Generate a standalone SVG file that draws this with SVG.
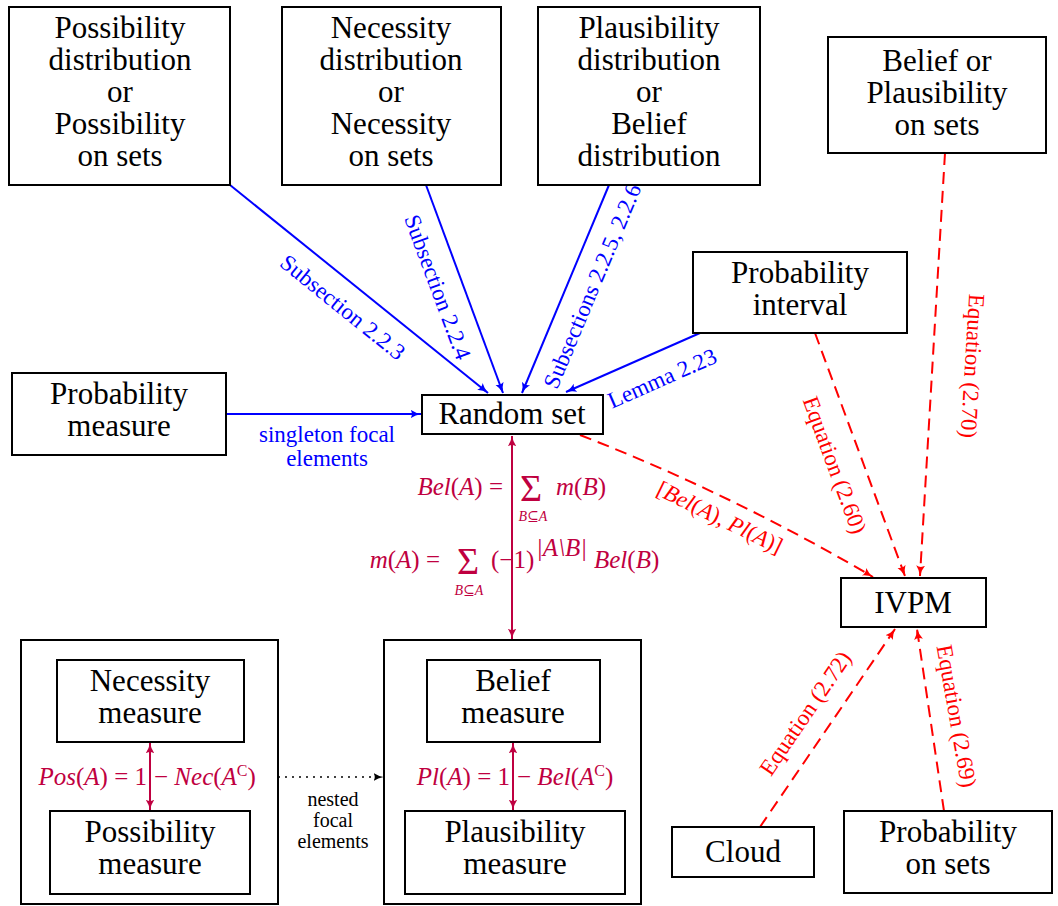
<svg xmlns="http://www.w3.org/2000/svg" width="1058" height="906" viewBox="0 0 1058 906" font-family="Liberation Serif, DejaVu Serif, serif">
<defs>
<style>
text{font-family:Liberation Serif,DejaVu Serif,serif}
.box{fill:#fff;stroke:#000;stroke-width:2}
.t{font-size:31px;fill:#000;text-anchor:middle}
.lb{font-size:23px;text-anchor:middle}
.sm{font-size:20px}
.blue{fill:#0000ff}
.red{fill:#ff0000}
.blk{fill:#000}
.it{font-style:italic}
.eb{stroke:#0000ff;stroke-width:2;fill:none}
.er{stroke:#ff0000;stroke-width:2;fill:none;stroke-dasharray:12 7}
.ec{stroke:#bf0040;stroke-width:2;fill:none}
.ed{stroke:#000;stroke-width:2;fill:none;stroke-dasharray:0 7;stroke-linecap:round}
.m{font-size:25px;fill:#bf0040}
.sig{font-size:38px;fill:#bf0040;text-anchor:middle}
.sub{font-size:14px;fill:#bf0040;font-style:italic;text-anchor:middle}
</style>
<marker id="aB" viewBox="0 0 10 10" refX="9.5" refY="5" markerWidth="11" markerHeight="11" markerUnits="userSpaceOnUse" orient="auto-start-reverse"><path d="M0,1 Q4,4 10,5 Q4,6 0,9 Q2.5,5 0,1Z" fill="#0000ff"/></marker>
<marker id="aR" viewBox="0 0 10 10" refX="9.5" refY="5" markerWidth="11" markerHeight="11" markerUnits="userSpaceOnUse" orient="auto-start-reverse"><path d="M0,1 Q4,4 10,5 Q4,6 0,9 Q2.5,5 0,1Z" fill="#ff0000"/></marker>
<marker id="aC" viewBox="0 0 10 10" refX="9.5" refY="5" markerWidth="11" markerHeight="11" markerUnits="userSpaceOnUse" orient="auto-start-reverse"><path d="M0,1 Q4,4 10,5 Q4,6 0,9 Q2.5,5 0,1Z" fill="#bf0040"/></marker>
<marker id="aK" viewBox="0 0 10 10" refX="9.5" refY="5" markerWidth="10" markerHeight="10" markerUnits="userSpaceOnUse" orient="auto-start-reverse"><path d="M0,1 Q4,4 10,5 Q4,6 0,9 Q2.5,5 0,1Z" fill="#000"/></marker>
</defs>
<rect x="0" y="0" width="1058" height="906" fill="#fff"/>

<g id="outer-left"><rect class="box" x="21" y="640" width="257" height="264"/></g>
<g id="outer-right"><rect class="box" x="384" y="640" width="257" height="264"/></g>

<g id="connectors">
  <line class="eb" x1="230" y1="185" x2="488" y2="393" marker-end="url(#aB)"/>
  <line class="eb" x1="426" y1="185" x2="503" y2="393" marker-end="url(#aB)"/>
  <line class="eb" x1="609" y1="185" x2="522" y2="393" marker-end="url(#aB)"/>
  <line class="eb" x1="700" y1="333" x2="566" y2="392" marker-end="url(#aB)"/>
  <line class="eb" x1="226" y1="414" x2="421" y2="414" marker-end="url(#aB)"/>
  <line class="ec" x1="512" y1="436" x2="512" y2="639" marker-start="url(#aC)" marker-end="url(#aC)"/>
  <line class="ec" x1="150" y1="743" x2="150" y2="810" marker-start="url(#aC)" marker-end="url(#aC)"/>
  <line class="ec" x1="513" y1="743" x2="513" y2="810" marker-start="url(#aC)" marker-end="url(#aC)"/>
  <line class="ed" x1="279" y1="777" x2="383" y2="777" marker-end="url(#aK)"/>
  <path class="er" d="M580,435 Q732,494 873,577" marker-end="url(#aR)"/>
  <line class="er" x1="815" y1="333" x2="905" y2="576" marker-end="url(#aR)"/>
  <line class="er" x1="945" y1="153" x2="920" y2="576" marker-end="url(#aR)"/>
  <line class="er" x1="760" y1="827" x2="895" y2="629" marker-end="url(#aR)"/>
  <line class="er" x1="944" y1="811" x2="917" y2="629" marker-end="url(#aR)"/>

  <text class="lb blue" transform="translate(343,307) rotate(38.9)" y="8">Subsection 2.2.3</text>
  <text class="lb blue" transform="translate(438,287) rotate(69.6)" y="8">Subsection 2.2.4</text>
  <text class="lb blue" transform="translate(592,286) rotate(-67.3)" y="8">Subsections 2.2.5, 2.2.6</text>
  <text class="lb blue" transform="translate(662,378) rotate(-23.8)" y="8">Lemma 2.23</text>
  <text class="lb blue" x="327" y="442">singleton focal</text>
  <text class="lb blue" x="327" y="466">elements</text>
  <text class="lb sm blk" x="333" y="806">nested</text>
  <text class="lb sm blk" x="333" y="827">focal</text>
  <text class="lb sm blk" x="333" y="848">elements</text>

  <text class="lb red" transform="translate(720,517) rotate(26)" y="8">[<tspan class="it">Bel</tspan>(<tspan class="it">A</tspan>), <tspan class="it">Pl</tspan>(<tspan class="it">A</tspan>)]</text>
  <text class="lb red" transform="translate(835,465) rotate(69.7)" y="8">Equation (2.60)</text>
  <text class="lb red" transform="translate(973,366) rotate(93.4)" y="8">Equation (2.70)</text>
  <text class="lb red" transform="translate(805,713) rotate(-55.7)" y="8">Equation (2.72)</text>
  <text class="lb red" transform="translate(957,716) rotate(80)" y="8">Equation (2.69)</text>

  <text class="m" x="503" y="495" text-anchor="end"><tspan class="it">Bel</tspan>(<tspan class="it">A</tspan>) =</text>
  <text class="sig" x="531" y="501">Σ</text>
  <text class="sub" x="533" y="521">B⊆A</text>
  <text class="m" x="556" y="495"><tspan class="it">m</tspan>(<tspan class="it">B</tspan>)</text>

  <text class="m" x="440" y="568" text-anchor="end"><tspan class="it">m</tspan>(<tspan class="it">A</tspan>) =</text>
  <text class="sig" x="468" y="574">Σ</text>
  <text class="sub" x="469" y="595">B⊆A</text>
  <text class="m" x="491" y="568">(−1)</text>
  <text class="m" x="536" y="556" font-size="16" font-style="italic">|A\B|</text>
  <text class="m" x="594" y="568"><tspan class="it">Bel</tspan>(<tspan class="it">B</tspan>)</text>

  <text class="m" x="147" y="785" text-anchor="end"><tspan class="it">Pos</tspan>(<tspan class="it">A</tspan>) = 1</text>
  <text class="m" x="154" y="785">− <tspan class="it">Nec</tspan>(<tspan class="it">A</tspan><tspan font-size="16" dy="-9">C</tspan><tspan dy="9">)</tspan></text>
  <text class="m" x="510" y="785" text-anchor="end"><tspan class="it">Pl</tspan>(<tspan class="it">A</tspan>) = 1</text>
  <text class="m" x="517" y="785">− <tspan class="it">Bel</tspan>(<tspan class="it">A</tspan><tspan font-size="16" dy="-9">C</tspan><tspan dy="9">)</tspan></text>
</g>

<g id="possibility-distribution"><rect class="box" x="9" y="7" width="221" height="178"/>
<text class="t" x="120" y="38">Possibility</text><text class="t" x="120" y="70">distribution</text><text class="t" x="120" y="102">or</text><text class="t" x="120" y="134">Possibility</text><text class="t" x="120" y="166">on sets</text></g>
<g id="necessity-distribution"><rect class="box" x="282" y="7" width="219" height="178"/>
<text class="t" x="391" y="38">Necessity</text><text class="t" x="391" y="70">distribution</text><text class="t" x="391" y="102">or</text><text class="t" x="391" y="134">Necessity</text><text class="t" x="391" y="166">on sets</text></g>
<g id="plausibility-distribution"><rect class="box" x="538" y="7" width="222" height="178"/>
<text class="t" x="649" y="38">Plausibility</text><text class="t" x="649" y="70">distribution</text><text class="t" x="649" y="102">or</text><text class="t" x="649" y="134">Belief</text><text class="t" x="649" y="166">distribution</text></g>
<g id="belief-plausibility-sets"><rect class="box" x="828" y="37" width="218" height="116"/>
<text class="t" x="937" y="71">Belief or</text><text class="t" x="937" y="103">Plausibility</text><text class="t" x="937" y="135">on sets</text></g>
<g id="probability-interval"><rect class="box" x="693" y="252" width="214" height="81"/>
<text class="t" x="800" y="283">Probability</text><text class="t" x="800" y="315">interval</text></g>
<g id="probability-measure"><rect class="box" x="12" y="373" width="214" height="82"/>
<text class="t" x="119" y="404">Probability</text><text class="t" x="119" y="436">measure</text></g>
<g id="random-set"><rect class="box" x="422" y="395" width="181" height="39"/>
<text class="t" x="512" y="424">Random set</text></g>
<g id="ivpm"><rect class="box" x="841" y="578" width="145" height="49"/>
<text class="t" x="913" y="613">IVPM</text></g>
<g id="cloud"><rect class="box" x="672" y="827" width="142" height="50"/>
<text class="t" x="743" y="862">Cloud</text></g>
<g id="probability-on-sets"><rect class="box" x="844" y="811" width="208" height="82"/>
<text class="t" x="948" y="842">Probability</text><text class="t" x="948" y="874">on sets</text></g>
<g id="necessity-measure"><rect class="box" x="57" y="660" width="187" height="82"/>
<text class="t" x="150" y="691">Necessity</text><text class="t" x="150" y="723">measure</text></g>
<g id="possibility-measure"><rect class="box" x="50" y="811" width="200" height="83"/>
<text class="t" x="150" y="842">Possibility</text><text class="t" x="150" y="874">measure</text></g>
<g id="belief-measure"><rect class="box" x="427" y="660" width="173" height="82"/>
<text class="t" x="513" y="691">Belief</text><text class="t" x="513" y="723">measure</text></g>
<g id="plausibility-measure"><rect class="box" x="405" y="811" width="220" height="83"/>
<text class="t" x="515" y="842">Plausibility</text><text class="t" x="515" y="874">measure</text></g>
</svg>
